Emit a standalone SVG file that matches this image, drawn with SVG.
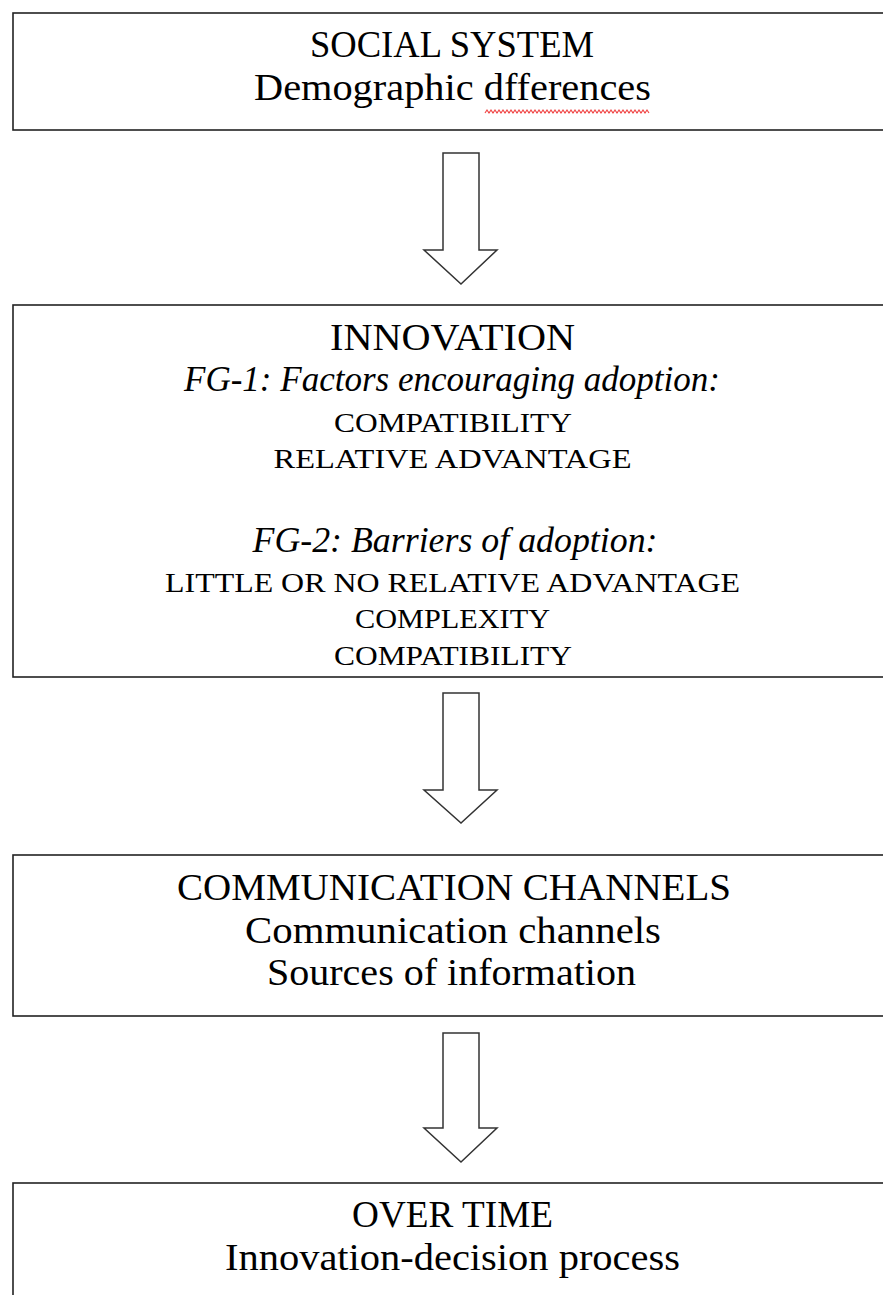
<svg xmlns="http://www.w3.org/2000/svg" width="883" height="1295" viewBox="0 0 883 1295">
<style>
.box{fill:#fff;stroke:#222;stroke-width:1.6}
.arr{fill:#fff;stroke:#333;stroke-width:1.5;stroke-linejoin:miter}
text{font-family:"Liberation Serif","Times New Roman",serif;fill:#000;text-anchor:middle}
.t{font-size:37px}
.s{font-size:27px}
.i{font-size:35px;font-style:italic}
</style>
<rect width="883" height="1295" fill="#fff"/>
<g id="connectors">
<path class="arr" d="M443,153 H479 V250 H497 L461,284 L424,250 H443 Z"/>
<path class="arr" d="M443,693 H479 V790 H497 L461,823 L424,790 H443 Z"/>
<path class="arr" d="M443,1033 H479 V1128 H497 L461,1162 L424,1128 H443 Z"/>
</g>
<g id="social-system">
<rect class="box" x="13" y="13" width="900" height="117"/>
<text class="t" x="452" y="57" textLength="284" lengthAdjust="spacingAndGlyphs">SOCIAL SYSTEM</text>
<text class="t" x="452.5" y="100" textLength="397" lengthAdjust="spacingAndGlyphs">Demographic dfferences</text>
<path d="M485,113 l2,-3 l2,3 l2,-3 l2,3 l2,-3 l2,3 l2,-3 l2,3 l2,-3 l2,3 l2,-3 l2,3 l2,-3 l2,3 l2,-3 l2,3 l2,-3 l2,3 l2,-3 l2,3 l2,-3 l2,3 l2,-3 l2,3 l2,-3 l2,3 l2,-3 l2,3 l2,-3 l2,3 l2,-3 l2,3 l2,-3 l2,3 l2,-3 l2,3 l2,-3 l2,3 l2,-3 l2,3 l2,-3 l2,3 l2,-3 l2,3 l2,-3 l2,3 l2,-3 l2,3 l2,-3 l2,3 l2,-3 l2,3 l2,-3 l2,3 l2,-3 l2,3 l2,-3 l2,3 l2,-3 l2,3 l2,-3 l2,3 l2,-3 l2,3 l2,-3 l2,3 l2,-3 l2,3 l2,-3 l2,3 l2,-3 l2,3 l2,-3 l2,3 l2,-3 l2,3 l2,-3 l2,3 l2,-3 l2,3 l2,-3 l2,3" fill="none" stroke="#f04848" stroke-width="1.2"/>
</g>
<g id="innovation">
<rect class="box" x="13" y="305" width="900" height="372"/>
<text class="t" x="452.5" y="350" textLength="245" lengthAdjust="spacingAndGlyphs">INNOVATION</text>
<text class="i" x="452" y="391" textLength="536" lengthAdjust="spacingAndGlyphs">FG-1: Factors encouraging adoption:</text>
<text class="s" x="453" y="432" textLength="238" lengthAdjust="spacingAndGlyphs">COMPATIBILITY</text>
<text class="s" x="452.5" y="468" textLength="358" lengthAdjust="spacingAndGlyphs">RELATIVE ADVANTAGE</text>
<text class="i" x="455" y="552" textLength="405" lengthAdjust="spacingAndGlyphs">FG-2: Barriers of adoption:</text>
<text class="s" x="452.5" y="592" textLength="575" lengthAdjust="spacingAndGlyphs">LITTLE OR NO RELATIVE ADVANTAGE</text>
<text class="s" x="452.5" y="628" textLength="195" lengthAdjust="spacingAndGlyphs">COMPLEXITY</text>
<text class="s" x="453" y="665" textLength="238" lengthAdjust="spacingAndGlyphs">COMPATIBILITY</text>
</g>
<g id="communication-channels">
<rect class="box" x="13" y="855" width="900" height="161"/>
<text class="t" x="454" y="900" textLength="554" lengthAdjust="spacingAndGlyphs">COMMUNICATION CHANNELS</text>
<text class="t" x="453" y="943" textLength="416" lengthAdjust="spacingAndGlyphs">Communication channels</text>
<text class="t" x="451.5" y="985" textLength="369" lengthAdjust="spacingAndGlyphs">Sources of information</text>
</g>
<g id="over-time">
<rect class="box" x="13" y="1183" width="900" height="140"/>
<text class="t" x="452.5" y="1227" textLength="201" lengthAdjust="spacingAndGlyphs">OVER TIME</text>
<text class="t" x="452.5" y="1270" textLength="455" lengthAdjust="spacingAndGlyphs">Innovation-decision process</text>
</g>
</svg>
